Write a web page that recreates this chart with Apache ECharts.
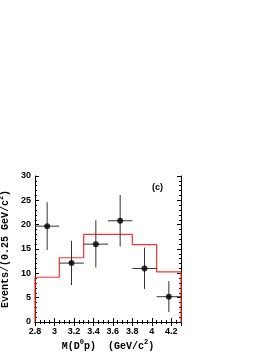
<!DOCTYPE html>
<html><head><meta charset="utf-8">
<script src="https://cdn.jsdelivr.net/npm/echarts@6/dist/echarts.min.js"></script>
<style>html,body{margin:0;padding:0;background:#fff}#c{width:273px;height:354px}</style>
</head><body><div id="c"></div>
<script>
const binEdges = [2.8, 3.05, 3.3, 3.55, 3.8, 4.05, 4.3];
const histValues = [9.2, 13.2, 18.0, 18.0, 15.9, 10.3];
const pointX = [2.925, 3.175, 3.425, 3.675, 3.925, 4.175];
const pointY = [19.7, 12.1, 16.0, 20.8, 11.0, 5.2];
const yLow = [14.8, 7.6, 11.2, 15.5, 6.8, 2.05];
const yHigh = [24.6, 16.7, 20.9, 26.1, 15.3, 8.4];
const halfWidth = 0.125;
const xTickLabels = ['2.8','3','3.2','3.4','3.6','3.8','4','4.2'];
const yTickLabels = ['0','5','10','15','20','25','30'];

const histData = [[binEdges[0], 0]];
histValues.forEach((v, i) => histData.push([binEdges[i], v]));
histData.push([binEdges[binEdges.length - 1], histValues[histValues.length - 1]]);
histData.push([binEdges[binEdges.length - 1], 0]);

const errData = pointX.map((x, i) => [x, pointY[i], yLow[i], yHigh[i]]);

const chart = echarts.init(document.getElementById('c'), null, {renderer: 'canvas'});
const tickFont = {fontFamily: 'Liberation Sans', fontSize: 9, color: '#000', fontWeight: 'bold'};
const axisCommon = {
  axisLine: {show: true, lineStyle: {color: '#000', width: 1}},
  axisTick: {show: true, inside: true, length: 4, lineStyle: {color: '#000'}},
  minorTick: {show: true, length: 2, lineStyle: {color: '#000'}},
  splitLine: {show: false}
};
function xFmt(v) {
  const s = String(parseFloat(v.toFixed(2)));
  return xTickLabels.indexOf(s) >= 0 ? s : '';
}
function yFmt(v) {
  const s = String(Math.round(v));
  return yTickLabels.indexOf(s) >= 0 ? s : '';
}
chart.setOption({
  animation: false,
  grid: {left: 35, right: 92, top: 176, bottom: 32, containLabel: false, outerBoundsMode: 'none'},
  xAxis: [
    Object.assign({}, axisCommon, {
      type: 'value', min: 2.8, max: 4.3, interval: 0.2, position: 'bottom',
      minorTick: {show: true, splitNumber: 4, length: 2, lineStyle: {color: '#000'}},
      axisLabel: Object.assign({formatter: xFmt, margin: 5, showMaxLabel: false}, tickFont),
      name: '{t|M(D}{s|0}{t|p)  (GeV/c}{s|2}{t|)}', nameLocation: 'middle', nameGap: 17,
      nameTextStyle: {rich: {
        t: {fontFamily: 'Liberation Mono', fontWeight: 'bold', fontSize: 10, color: '#000', verticalAlign: 'bottom'},
        s: {fontFamily: 'Liberation Mono', fontWeight: 'bold', fontSize: 7, color: '#000', verticalAlign: 'top', padding: [0,0,5,0]}
      }}
    }),
    Object.assign({}, axisCommon, {
      type: 'value', min: 2.8, max: 4.3, interval: 0.2, position: 'top',
      minorTick: {show: true, splitNumber: 4, length: 2, lineStyle: {color: '#000'}},
      axisLabel: {show: false}
    })
  ],
  yAxis: [
    Object.assign({}, axisCommon, {
      type: 'value', min: 0, max: 30, interval: 5, position: 'left',
      minorTick: {show: true, splitNumber: 5, length: 2, lineStyle: {color: '#000'}},
      axisLabel: Object.assign({formatter: yFmt, margin: 4}, tickFont),
      name: '{t|Events/(0.25 GeV/c}{s|2}{t|)}', nameLocation: 'middle', nameGap: 16, nameRotate: 90,
      nameTextStyle: {rich: {
        t: {fontFamily: 'Liberation Mono', fontWeight: 'bold', fontSize: 10, color: '#000', verticalAlign: 'bottom'},
        s: {fontFamily: 'Liberation Mono', fontWeight: 'bold', fontSize: 7, color: '#000', verticalAlign: 'top', padding: [0,0,5,0]}
      }}
    }),
    Object.assign({}, axisCommon, {
      type: 'value', min: 0, max: 30, interval: 5, position: 'right',
      minorTick: {show: true, splitNumber: 5, length: 2, lineStyle: {color: '#000'}},
      axisLabel: {show: false}
    })
  ],
  graphic: [{
    type: 'text', left: 152, top: 183,
    style: {text: '(c)', fontFamily: 'Liberation Sans', fontWeight: 'bold', fontSize: 9, fill: '#000'}
  }],
  series: [
    {
      type: 'line', step: 'end', data: histData, symbol: 'none', z: 2,
      lineStyle: {color: '#ff3030', width: 1.2}
    },
    {
      type: 'custom', data: errData, z: 3,
      renderItem: function (params, api) {
        const x = api.value(0), y = api.value(1), lo = api.value(2), hi = api.value(3);
        const pL = api.coord([x - halfWidth, y]);
        const pR = api.coord([x + halfWidth, y]);
        const pT = api.coord([x, hi]);
        const pB = api.coord([x, lo]);
        const st = {stroke: '#333', lineWidth: 1};
        return {type: 'group', children: [
          {type: 'line', shape: {x1: pL[0], y1: pL[1], x2: pR[0], y2: pR[1]}, style: st},
          {type: 'line', shape: {x1: pT[0], y1: pT[1], x2: pB[0], y2: pB[1]}, style: st}
        ]};
      }
    },
    {
      type: 'scatter', data: pointX.map((x, i) => [x, pointY[i]]), symbol: 'circle', symbolSize: 6, z: 4,
      itemStyle: {color: '#000'}
    }
  ]
});
</script></body></html>
